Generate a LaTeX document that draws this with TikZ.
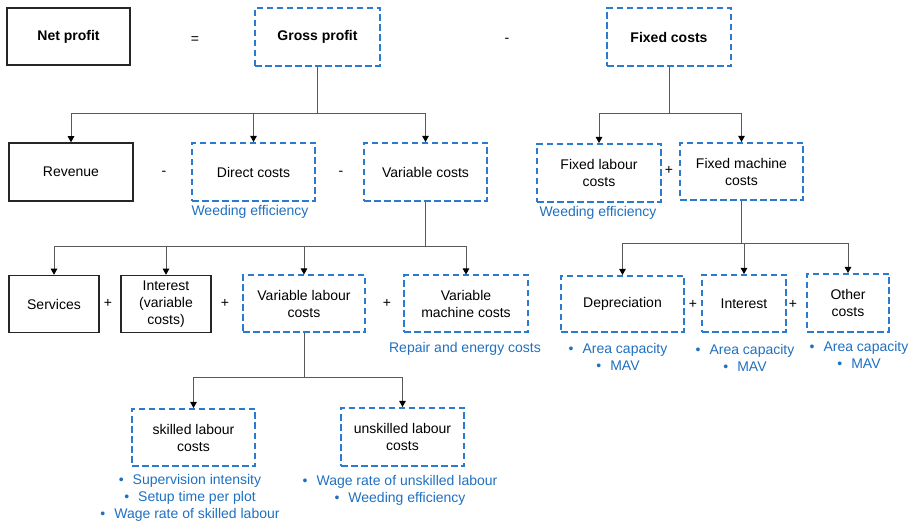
\documentclass[tikz,border=0pt]{standalone}
\usepackage{fontspec}
\setmainfont{Liberation Sans}
\usetikzlibrary{arrows.meta}
\definecolor{bt}{HTML}{1F70C1}
\definecolor{bb}{HTML}{2A7BD0}
\definecolor{ln}{HTML}{595959}
\begin{document}
\begin{tikzpicture}[x=1pt,y=-1pt,
  txt/.style={font=\fontsize{14}{17}\selectfont},
  bbox/.style={txt, draw=black!85, line width=1.5pt, align=center, inner sep=0pt},
  dbox/.style={txt, draw=bb, line width=2pt, dash pattern=on 6.5pt off 3.5pt, align=center, inner sep=0pt},
  lbl/.style={txt, text=bt, align=center, inner sep=0pt},
  op/.style={txt, inner sep=0pt},
  conn/.style={draw=ln, line width=0.9pt},
  arr/.style={conn, -{Triangle[width=6.5pt,length=6pt,color=black]}}]
\useasboundingbox (0,0) rectangle (913,526);
% top row
\node[bbox, minimum width=123pt, minimum height=57pt] (np) at (68.5,36.5) {\textbf{Net profit}};
\node[op] (eq) at (195,40) {=};
\node[dbox, minimum width=125pt, minimum height=58pt] (gp) at (317.5,37) {\textbf{Gross profit}};
\node[op] (m0) at (507,40) {-};
\node[dbox, minimum width=124pt, minimum height=58pt] (fc) at (669,37.5) {\textbf{Fixed costs}};
% second row
\node[bbox, minimum width=124pt, minimum height=58pt] (rev) at (71,172) {Revenue};
\node[op] (m1) at (164,173) {-};
\node[dbox, minimum width=123pt, minimum height=58pt] (dc) at (253.5,172) {Direct costs};
\node[lbl] (we1) at (250,212) {Weeding efficiency};
\node[op] (m2) at (341,173) {-};
\node[dbox, minimum width=123pt, minimum height=58pt] (vc) at (425.5,172) {Variable costs};
\node[dbox, minimum width=124pt, minimum height=58pt] (flc) at (599,173) {Fixed labour\\costs};
\node[op] (p0) at (669,170) {+};
\node[dbox, minimum width=123pt, minimum height=57pt] (fmc) at (741.5,171.5) {Fixed machine\\costs};
\node[lbl] (we2) at (598,213) {Weeding efficiency};
% third row
\node[bbox, minimum width=90pt, minimum height=57pt] (srv) at (54,304) {Services};
\node[op] (p1) at (108,303) {+};
\node[bbox, minimum width=90pt, minimum height=57pt] (intv) at (166,304) {Interest\\(variable\\costs)};
\node[op] (p2) at (225,303) {+};
\node[dbox, minimum width=122pt, minimum height=57pt] (vlc) at (304,304) {Variable labour\\costs};
\node[op] (p3) at (387,303) {+};
\node[dbox, minimum width=124pt, minimum height=57pt] (vmc) at (466,304) {Variable\\machine costs};
\node[lbl] (rep) at (465,349) {Repair and energy costs};
\node[dbox, minimum width=123pt, minimum height=56pt] (dep) at (622.5,304) {Depreciation};
\node[op] (p4) at (693,304) {+};
\node[dbox, minimum width=84pt, minimum height=57pt] (intr) at (744,303.5) {Interest};
\node[op] (p5) at (793,304) {+};
\node[dbox, minimum width=82pt, minimum height=58pt] (oth) at (848,303) {Other\\costs};
\node[lbl] (l1) at (618,356.5) {\textbullet\hspace{9pt}Area capacity\\\textbullet\hspace{9pt}MAV};
\node[lbl] (l2) at (745,357.5) {\textbullet\hspace{9pt}Area capacity\\\textbullet\hspace{9pt}MAV};
\node[lbl] (l3) at (859,355) {\textbullet\hspace{9pt}Area capacity\\\textbullet\hspace{9pt}MAV};
% fourth row
\node[dbox, minimum width=123pt, minimum height=57pt] (slc) at (193.5,437.5) {skilled labour\\costs};
\node[dbox, minimum width=123pt, minimum height=58pt] (ulc) at (402.5,437) {unskilled labour\\costs};
\node[lbl] (l4) at (190,498) {\textbullet\hspace{9pt}Supervision intensity\\\textbullet\hspace{9pt}Setup time per plot\\\textbullet\hspace{9pt}Wage rate of skilled labour};
\node[lbl] (l5) at (400,490.5) {\textbullet\hspace{9pt}Wage rate of unskilled labour\\\textbullet\hspace{9pt}Weeding efficiency};
% junctions
\coordinate (jg) at (317.5,113);
\coordinate (jf) at (669,113);
\coordinate (jv) at (425.5,246);
\coordinate (jm) at (741.5,243);
\coordinate (jl) at (304,377);
% connectors
\draw[arr] (gp.south) -- (jg) -| (rev.north);
\draw[arr] (jg) -| (dc.north);
\draw[arr] (jg) -| (vc.north);
\draw[arr] (fc.south) -- (jf) -| (flc.north);
\draw[arr] (jf) -| (fmc.north);
\draw[arr] (vc.south) -- (jv) -| (srv.north);
\draw[arr] (jv) -| (intv.north);
\draw[arr] (jv) -| (vlc.north);
\draw[arr] (jv) -| (vmc.north);
\draw[arr] (fmc.south) -- (jm) -| (dep.north);
\draw[arr] (jm) -| (intr.north);
\draw[arr] (jm) -| (oth.north);
\draw[arr] (vlc.south) -- (jl) -| (slc.north);
\draw[arr] (jl) -| (ulc.north);
\end{tikzpicture}
\end{document}
